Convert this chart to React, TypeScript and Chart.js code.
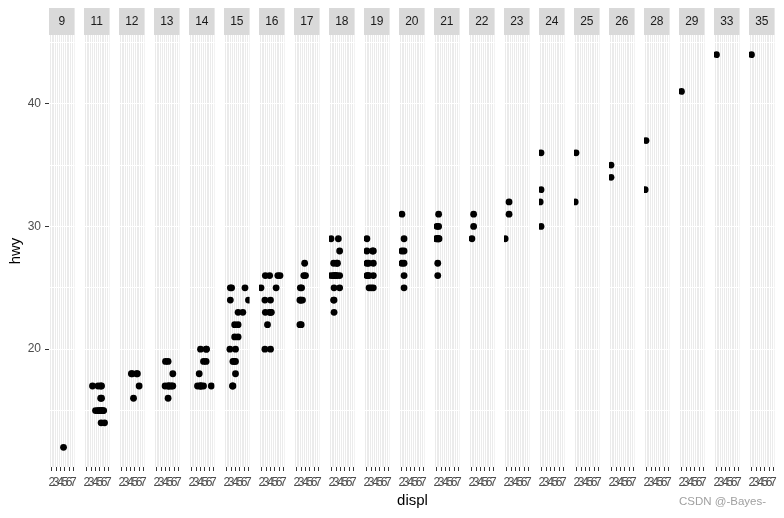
import React, { useEffect, useRef } from 'react';
import { Chart, registerables } from 'chart.js';

Chart.register(...registerables);

// ---- data (mpg: hwy vs displ, faceted by cty) ----
const ctyLevels = [9, 11, 12, 13, 14, 15, 16, 17, 18, 19, 20, 21, 22, 23, 24, 25, 26, 28, 29, 33, 35];

const displByCty: number[][] = [
  [4.7],
  [5.3, 5.3, 5.7, 3.3, 5.2, 5.2, 5.2, 5.9, 4.6, 5.4, 5.4, 6.1, 4.0, 4.6, 5.4, 4.7],
  [6.0, 4.7, 5.4, 4.2, 4.4, 5.6],
  [5.7, 3.9, 4.7, 5.7, 4.0, 4.6, 5.0, 4.6, 4.6, 5.4],
  [5.3, 5.3, 6.5, 3.7, 3.9, 4.7, 4.0, 4.2, 5.4, 4.7, 3.3, 4.0],
  [2.8, 3.1, 2.8, 5.7, 6.2, 7.0, 3.8, 3.8, 3.7, 4.0, 4.6, 4.6, 4.6, 4.0, 3.3, 2.7, 3.4, 3.4, 4.0],
  [2.8, 1.8, 4.2, 5.7, 6.2, 3.3, 3.8, 4.0, 4.0, 2.7, 3.8, 5.3, 2.7, 4.0, 2.8],
  [2.8, 3.1, 3.6, 3.0, 3.3, 4.0, 2.7, 3.0, 3.8, 2.7, 2.8],
  [1.8, 2.8, 3.1, 1.8, 3.1, 3.5, 2.4, 3.8, 3.8, 2.4, 2.4, 2.5, 3.0, 3.8, 2.5, 2.5, 2.5, 3.3],
  [2.0, 2.4, 3.3, 2.0, 2.0, 3.5, 3.5, 3.0, 3.5, 2.5, 2.2, 2.5, 3.5, 2.0],
  [2.0, 2.0, 2.0, 2.5, 2.5, 2.5, 2.5, 2.5],
  [1.8, 2.0, 2.0, 2.4, 2.4, 2.4, 2.2, 2.2, 2.2, 2.5],
  [2.4, 2.4, 2.0],
  [1.6, 2.5, 2.5],
  [1.6, 1.8, 1.8, 1.8],
  [1.6, 1.8],
  [1.8, 1.8],
  [1.6, 1.8],
  [1.9],
  [1.9],
  [1.9],
];

const hwyByCty: number[][] = [
  [12],
  [15, 14, 15, 17, 17, 15, 16, 15, 17, 17, 15, 14, 15, 15, 16, 15],
  [17, 16, 18, 18, 18, 18],
  [17, 17, 17, 18, 19, 19, 17, 16, 17, 17],
  [20, 19, 17, 18, 17, 19, 17, 17, 20, 17, 17, 20],
  [25, 25, 24, 23, 25, 24, 22, 21, 19, 19, 21, 22, 23, 20, 17, 20, 19, 17, 18],
  [26, 25, 23, 26, 26, 22, 23, 23, 24, 24, 26, 25, 20, 20, 23],
  [25, 25, 26, 24, 24, 26, 24, 22, 27, 22, 24],
  [29, 26, 27, 26, 26, 29, 24, 26, 25, 26, 27, 26, 26, 28, 25, 24, 23, 27],
  [27, 27, 28, 26, 29, 27, 26, 25, 25, 25, 26, 26, 28, 28],
  [31, 28, 27, 27, 26, 28, 29, 25],
  [29, 30, 29, 30, 31, 29, 26, 29, 27, 29],
  [30, 31, 29],
  [29, 31, 32],
  [32, 36, 30, 33],
  [32, 36],
  [34, 35],
  [33, 37],
  [41],
  [44],
  [44],
];

const xTickLabels = [2, 3, 4, 5, 6, 7];
const yTickLabels = [20, 30, 40];

// ---- layout / style ----
const FONT = '"Liberation Sans", Arial, Helvetica, sans-serif';
const PANEL_LEFT0 = 49;
const PITCH = 35;
const PANEL_W = 27;
const SIDE = 5;
const CANVAS_TOP = 8;
const STRIP_H = 27;
const AXIS_H = 28;
const CANVAS_H = 487;
const Y_AXIS_W = 49;

const allDispl = displByCty.flat();
const allHwy = hwyByCty.flat();
const xLo = Math.min(...allDispl);
const xHi = Math.max(...allDispl);
const yLo = Math.min(...allHwy);
const yHi = Math.max(...allHwy);
const X_MIN = xLo - 0.05 * (xHi - xLo);
const X_MAX = xHi + 0.05 * (xHi - xLo);
const Y_MIN = yLo - 0.05 * (yHi - yLo);
const Y_MAX = yHi + 0.05 * (yHi - yLo);

const xGridValues: number[] = [];
for (let v = Math.ceil(X_MIN * 2) / 2; v <= X_MAX + 1e-9; v += 0.5) xGridValues.push(Math.round(v * 10) / 10);
const yGridValues: number[] = [];
for (let v = Math.ceil(Y_MIN / 5) * 5; v <= Y_MAX + 1e-9; v += 5) yGridValues.push(v);

const facetPlugin = {
  id: 'facetStrip',
  beforeDraw(chart: any, _args: any, opts: any) {
    const { ctx, chartArea } = chart;
    const { left, right, top, bottom } = chartArea;
    ctx.save();
    ctx.fillStyle = '#EBEBEB';
    ctx.fillRect(left, top, right - left, bottom - top);
    ctx.fillStyle = '#D9D9D9';
    ctx.fillRect(left, top - STRIP_H, right - left, STRIP_H);
    ctx.fillStyle = '#1A1A1A';
    ctx.font = `12px ${FONT}`;
    ctx.textAlign = 'center';
    ctx.textBaseline = 'middle';
    ctx.fillText(opts.label, (left + right) / 2, top - STRIP_H / 2 + 0.5);
    if (opts.yTitle) {
      ctx.fillStyle = '#000000';
      ctx.font = `15px ${FONT}`;
      ctx.translate(16, (top + bottom) / 2);
      ctx.rotate(-Math.PI / 2);
      ctx.fillText(opts.yTitle, 0, 0);
    }
    ctx.restore();
  },
};

function Panel({ index }: { index: number }) {
  const ref = useRef<HTMLCanvasElement>(null);
  const first = index === 0;
  const panelLeft = PANEL_LEFT0 + index * PITCH;
  const canvasLeft = first ? 0 : panelLeft - SIDE;
  const canvasW = first ? panelLeft + PANEL_W + SIDE : PANEL_W + 2 * SIDE;

  useEffect(() => {
    if (!ref.current) return;
    const points = displByCty[index].map((d, i) => ({ x: d, y: hwyByCty[index][i] }));
    const chart = new Chart(ref.current, {
      type: 'scatter',
      data: {
        datasets: [
          {
            data: points,
            pointRadius: 3.4,
            pointHoverRadius: 3.4,
            pointBackgroundColor: '#000000',
            pointBorderWidth: 0,
            borderWidth: 0,
            clip: 0,
          } as any,
        ],
      },
      options: {
        responsive: false,
        animation: false,
        events: [],
        layout: { padding: { top: STRIP_H, left: first ? 0 : SIDE, right: SIDE, bottom: 0 } },
        plugins: {
          legend: { display: false },
          tooltip: { enabled: false },
          title: { display: false },
          facetStrip: { label: String(ctyLevels[index]), yTitle: first ? 'hwy' : '' },
        } as any,
        scales: {
          x: {
            type: 'linear',
            min: X_MIN,
            max: X_MAX,
            bounds: 'data',
            afterBuildTicks: (s: any) => {
              s.ticks = xGridValues.map((v) => ({ value: v }));
            },
            afterFit: (s: any) => {
              s.height = AXIS_H;
            },
            border: { display: false },
            grid: {
              color: '#FFFFFF',
              lineWidth: 1,
              drawOnChartArea: true,
              drawTicks: true,
              tickLength: 4,
              tickWidth: 1,
              tickColor: (c: any) => (xTickLabels.includes(c.tick?.value) ? '#333333' : 'rgba(0,0,0,0)'),
            },
            ticks: {
              autoSkip: false,
              maxRotation: 0,
              minRotation: 0,
              padding: 4,
              color: '#4D4D4D',
              font: { family: FONT, size: 12 },
              callback: (v: any) => (xTickLabels.includes(Number(v)) ? String(v) : ''),
            },
          },
          y: {
            type: 'linear',
            min: Y_MIN,
            max: Y_MAX,
            bounds: 'data',
            afterBuildTicks: (s: any) => {
              s.ticks = yGridValues.map((v) => ({ value: v }));
            },
            afterFit: (s: any) => {
              s.width = first ? Y_AXIS_W : 0;
            },
            border: { display: false },
            grid: {
              color: '#FFFFFF',
              lineWidth: 1,
              drawOnChartArea: true,
              drawTicks: first,
              tickLength: 4,
              tickWidth: 1,
              tickColor: (c: any) => (yTickLabels.includes(c.tick?.value) ? '#333333' : 'rgba(0,0,0,0)'),
            },
            ticks: {
              display: first,
              autoSkip: false,
              padding: 4,
              color: '#4D4D4D',
              font: { family: FONT, size: 12 },
              callback: (v: any) => (yTickLabels.includes(Number(v)) ? String(v) : ''),
            },
          },
        },
      },
      plugins: [facetPlugin],
    } as any);
    return () => chart.destroy();
  }, [index]);

  return (
    <canvas
      ref={ref}
      width={canvasW}
      height={CANVAS_H}
      style={{ position: 'absolute', left: canvasLeft, top: CANVAS_TOP, width: canvasW, height: CANVAS_H }}
    />
  );
}

export default function App() {
  return (
    <div
      style={{
        position: 'absolute',
        left: 0,
        top: 0,
        width: 784,
        height: 518,
        background: '#FFFFFF',
        overflow: 'hidden',
        fontFamily: FONT,
      }}
    >
      {ctyLevels.map((_, i) => (
        <Panel key={i} index={i} />
      ))}
      <div
        style={{
          position: 'absolute',
          left: PANEL_LEFT0,
          width: 20 * PITCH + PANEL_W,
          top: 491,
          textAlign: 'center',
          fontSize: 15,
          lineHeight: '18px',
          color: '#000000',
        }}
      >
        displ
      </div>
      <div
        style={{
          position: 'absolute',
          left: 679,
          top: 494,
          fontSize: 11.5,
          lineHeight: '14px',
          color: '#A0A0A0',
          whiteSpace: 'nowrap',
        }}
      >
        CSDN @-Bayes-
      </div>
    </div>
  );
}
